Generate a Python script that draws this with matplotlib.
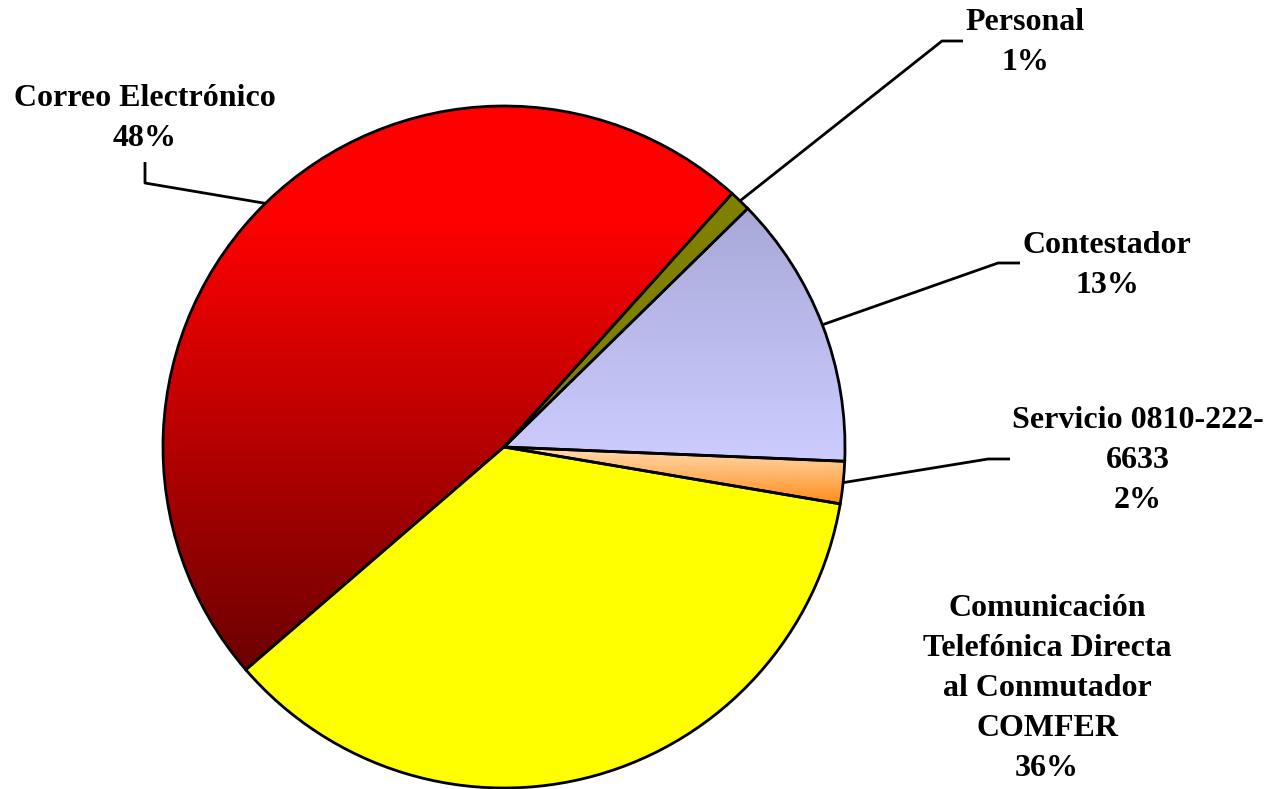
import matplotlib.pyplot as plt
import numpy as np
from matplotlib.colors import LinearSegmentedColormap

# share of contacts by channel
labels = ['Correo Electrónico', 'Comunicación\nTelefónica Directa\nal Conmutador\nCOMFER',
          'Servicio 0810-222-\n6633', 'Contestador', 'Personal']
shares = [48, 36, 2, 13, 1]

# fill: (top colour, bottom colour) for gradient slices, single colour otherwise
fills = [('#ff0000', '#6c0000'), '#ffff00', ('#ffdcb0', '#ff8c1a'),
         ('#a8a8d8', '#ccccff'), '#808000']

# text anchor and leader elbow, in pixel coords (y from top)
text_pos = [(145, 118), (1047, 689), (1138, 460), (1107, 265), (1025, 42)]
elbows = [[(145, 183), (145, 162)], None, [(988, 459), (1010, 459)],
          [(998, 263), (1020, 263)], [(942, 41), (963, 41)]]

W, H = 1268, 789
fig = plt.figure(figsize=(W / 100, H / 100), dpi=100)
ax = fig.add_axes([0, 0, 1, 1])

cx, cy, r = 504, H - 447, 341
wedges, _ = ax.pie(shares, center=(cx, cy), radius=r, startangle=48,
                   wedgeprops=dict(edgecolor='black', linewidth=2),
                   frame=True)
ax.set_xlim(0, W)
ax.set_ylim(0, H)
ax.set_aspect('equal')
ax.axis('off')

for w, f in zip(wedges, fills):
    if isinstance(f, tuple):
        w.set_facecolor('none')
        bb = w.get_path().get_extents(w.get_transform())
        inv = ax.transData.inverted()
        (x0, y0), (x1, y1) = inv.transform([(bb.x0, bb.y0), (bb.x1, bb.y1)])
        if f[0] == '#ff0000':
            cmap = LinearSegmentedColormap.from_list('g', [(0, f[0]), (0.2, f[0]), (1, f[1])])
        else:
            cmap = LinearSegmentedColormap.from_list('g', [f[0], f[1]])
        grad = np.linspace(0, 1, 256).reshape(-1, 1)
        # row 0 (top colour) sits at the top of the slice
        im = ax.imshow(grad, cmap=cmap, extent=[x0, x1, y0, y1], origin='upper',
                       aspect='auto', interpolation='bilinear', zorder=0.5)
        im.set_clip_path(w)
        w.set_zorder(1)
    else:
        w.set_facecolor(f)

ax.set_xlim(0, W)
ax.set_ylim(0, H)

# labels and leader lines
start = 48
for i, (lab, s) in enumerate(zip(labels, shares)):
    mid = np.deg2rad(start + s * 3.6 / 2)
    start += s * 3.6
    tx, ty = text_pos[i]
    ax.text(tx, H - ty, f'{lab}\n{s}%', ha='center', va='center',
            family='Liberation Serif', fontweight='bold', fontsize=23,
            linespacing=1.5, zorder=3)
    if elbows[i] is not None:
        px, py = cx + r * np.cos(mid), cy + r * np.sin(mid)
        xs = [px] + [e[0] for e in elbows[i]]
        ys = [py] + [H - e[1] for e in elbows[i]]
        ax.plot(xs, ys, color='black', lw=2, zorder=2, solid_capstyle='butt')

fig.savefig('out.png', dpi=100)
